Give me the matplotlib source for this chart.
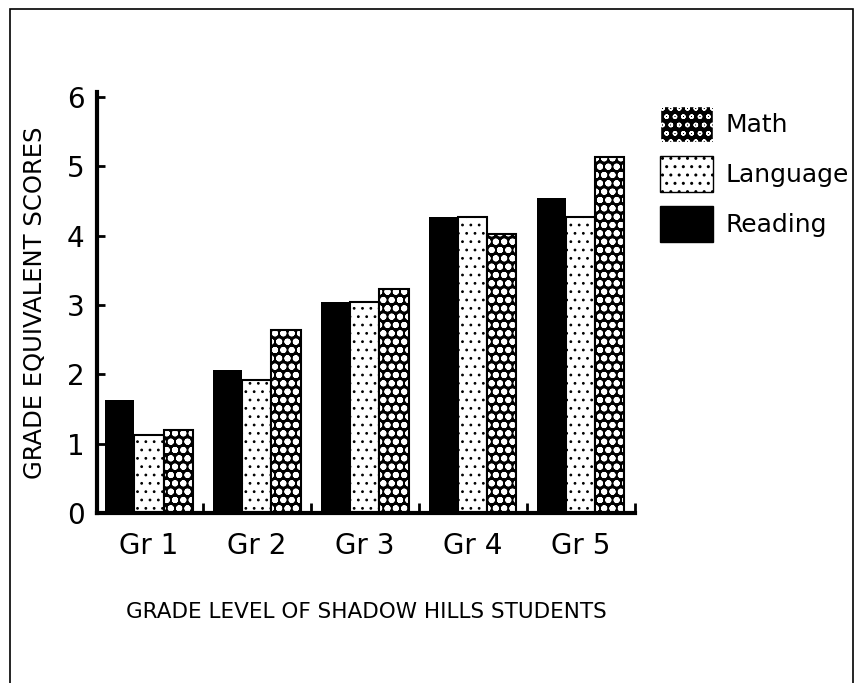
import numpy as np
import matplotlib
matplotlib.use('Agg')
import matplotlib.pyplot as plt
from matplotlib.patches import Rectangle, Patch

plt.rcParams['font.family'] = ['DejaVu Sans']

grades = ['Gr 1', 'Gr 2', 'Gr 3', 'Gr 4', 'Gr 5']
reading = [1.63, 2.06, 3.05, 4.27, 4.55]
language = [1.12, 1.92, 3.05, 4.27, 4.27]
math = [1.2, 2.64, 3.23, 4.03, 5.13]

fig = plt.figure(figsize=(8.6, 6.83), dpi=100)
ax = fig.add_axes([0.113, 0.249, 0.625, 0.616])

x = np.arange(len(grades))
w = 0.27

# Reading: solid black
ax.bar(x - w, reading, w, color='black', edgecolor='black', linewidth=0)
# Language: white with small sparse dots
with plt.rc_context({'hatch.linewidth': 0.8}):
    ax.bar(x, language, w, color='white', edgecolor='black', hatch='..', linewidth=1.5)
    lang_patch = Patch(facecolor='white', edgecolor='black', hatch='..', label='Language')
# Math: black with white checks
with plt.rc_context({'hatch.linewidth': 2.0}):
    ax.bar(x + w, math, w, color='black', edgecolor='white', hatch='oo', linewidth=0)
    math_patch = Patch(facecolor='black', edgecolor='white', hatch='oo', label='Math')
ax.bar(x + w, math, w, fill=False, edgecolor='black', linewidth=1.5)

ax.set_xlim(-0.48, 4.5)
ax.set_ylim(0, 6.07)
ax.set_yticks(range(7))
ax.set_xticks(x)
ax.set_xticklabels(grades, fontsize=20)
ax.set_xticks(np.arange(0.5, 5, 1), minor=True)
ax.tick_params(axis='x', which='major', length=0, pad=14)
ax.tick_params(axis='x', which='minor', direction='in', length=7, width=2)
ax.tick_params(axis='y', direction='in', length=6, width=2, labelsize=20, pad=9)

for s in ['top', 'right']:
    ax.spines[s].set_visible(False)
for s in ['left', 'bottom']:
    ax.spines[s].set_linewidth(3)

ax.set_ylabel('GRADE EQUIVALENT SCORES', fontsize=17.5, labelpad=14)
ax.set_xlabel('GRADE LEVEL OF SHADOW HILLS STUDENTS', fontsize=15.5, labelpad=30)

handles = [
    math_patch,
    lang_patch,
    Patch(facecolor='black', edgecolor='black', label='Reading'),
]
fig.legend(handles=handles, loc='upper left', bbox_to_anchor=(660 / 860, 1 - 106 / 683),
           frameon=False, fontsize=18, handlelength=2.1, handleheight=1.85,
           handletextpad=0.5, labelspacing=0.55, borderpad=0, borderaxespad=0)

fig.patches.append(Rectangle((10 / 860, -0.01), 843 / 860, 1 - 9 / 683 + 0.01,
                             transform=fig.transFigure, fill=False,
                             edgecolor='black', linewidth=1.2))

fig.savefig('out.png', dpi=100)
